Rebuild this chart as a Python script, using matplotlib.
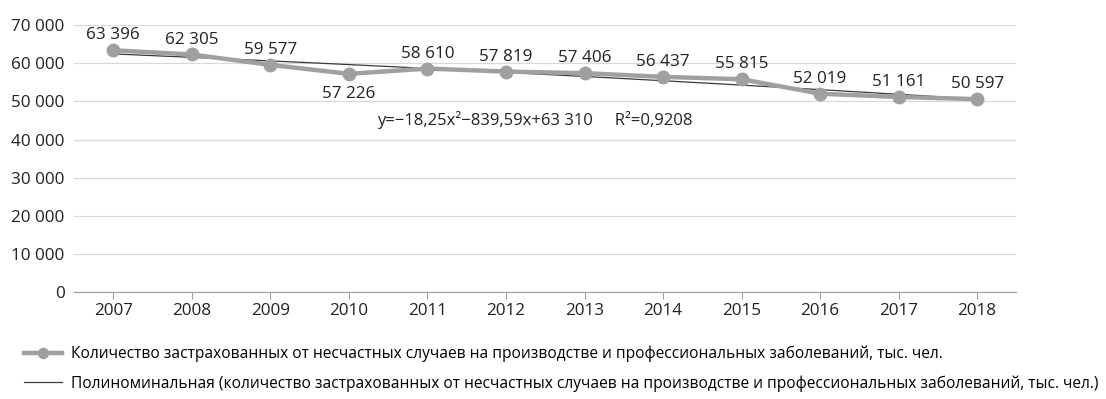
import numpy as np
import matplotlib.pyplot as plt

plt.rcParams['font.family'] = ['Open Sans', 'DejaVu Sans']

years = [2007, 2008, 2009, 2010, 2011, 2012, 2013, 2014, 2015, 2016, 2017, 2018]
insured = [63396, 62305, 59577, 57226, 58610, 57819, 57406, 56437, 55815, 52019, 51161, 50597]
label_below = [2010]
yticks = [0, 10000, 20000, 30000, 40000, 50000, 60000, 70000]

series_name = ("Количество застрахованных от несчастных случаев на производстве "
               "и профессиональных заболеваний, тыс. чел.")
trend_name = ("Полиноминальная (количество застрахованных от несчастных случаев на производстве "
              "и профессиональных заболеваний, тыс. чел.)")
equation = "y=\u221218,25x\u00b2\u2212839,59x+63 310     R\u00b2=0,9208"


def fmt(v):
    return f"{v:,}".replace(",", " ")


fig = plt.figure(figsize=(11.06, 3.99), dpi=100)
ax = fig.add_axes([0.067, 0.268, 0.852, 0.669])

x = np.arange(1, len(years) + 1)

# excel-like polynomial trendline (2nd order)
coef = np.polyfit(x, insured, 2)
xs = np.linspace(1, len(years), 200)
trend, = ax.plot(xs, np.polyval(coef, xs), color='#3a3a3a', lw=0.9, zorder=2)

line, = ax.plot(x, insured, color='#a0a0a0', lw=3.2, marker='o', ms=9,
                markerfacecolor='#a0a0a0', markeredgecolor='#a0a0a0', zorder=3)

for xi, yr, v in zip(x, years, insured):
    if yr in label_below:
        ax.annotate(fmt(v), (xi, v), xytext=(0, -9), textcoords='offset points',
                    ha='center', va='top', fontsize=12.3, color='#222222')
    else:
        ax.annotate(fmt(v), (xi, v), xytext=(0, 5), textcoords='offset points',
                    ha='center', va='bottom', fontsize=12.3, color='#222222')

ax.text(0.489, 0.645, equation, transform=ax.transAxes, ha='center', va='center',
        fontsize=12, color='#222222')

ax.set_xlim(0.5, len(years) + 0.5)
ax.set_ylim(0, 70000)
ax.set_xticks(x)
ax.set_xticklabels([str(y) for y in years])
ax.set_yticks(yticks)
ax.set_yticklabels([fmt(v) for v in yticks])
ax.tick_params(axis='x', length=5, color='#a0a0a0', labelsize=12.3, pad=3, labelcolor='#222222')
ax.tick_params(axis='y', length=0, labelsize=12.3, pad=7, labelcolor='#222222')
ax.grid(axis='y', color='#d9d9d9', lw=0.9)
ax.set_axisbelow(True)
for s in ['top', 'right', 'left']:
    ax.spines[s].set_visible(False)
ax.spines['bottom'].set_color('#a0a0a0')

fig.legend([line, trend], [series_name, trend_name], loc='upper left',
           bbox_to_anchor=(0.022, 0.133), frameon=False, fontsize=11.2,
           handlelength=2.4, handletextpad=0.6, labelspacing=0.82,
           borderaxespad=0, borderpad=0, markerscale=0.8)

fig.savefig('out.png', dpi=100)
